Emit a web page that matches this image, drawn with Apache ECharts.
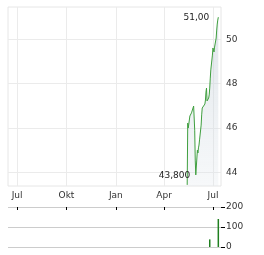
<!DOCTYPE html>
<html>
<head>
<meta charset="utf-8">
<script src="https://cdn.jsdelivr.net/npm/echarts@6/dist/echarts.min.js"></script>
<style>
  html, body { margin: 0; padding: 0; background: #fff; }
  #chart { width: 264px; height: 255px; }
</style>
</head>
<body>
<div id="chart"></div>
<script>
// Kursdaten (Schlusskurse)
var dates = [
  '2025-05-14', '2025-05-15', '2025-05-16', '2025-05-19', '2025-05-20', '2025-05-21', '2025-05-22', '2025-05-23',
  '2025-05-26', '2025-05-27', '2025-05-28', '2025-05-29', '2025-05-30',
  '2025-06-02', '2025-06-03', '2025-06-04', '2025-06-05', '2025-06-06',
  '2025-06-09', '2025-06-10', '2025-06-11', '2025-06-12', '2025-06-13',
  '2025-06-16', '2025-06-17', '2025-06-18', '2025-06-19', '2025-06-20',
  '2025-06-23', '2025-06-24', '2025-06-25', '2025-06-26', '2025-06-27',
  '2025-06-30', '2025-07-01', '2025-07-02', '2025-07-03', '2025-07-04',
  '2025-07-07', '2025-07-08', '2025-07-09', '2025-07-10', '2025-07-11'
];
var prices = [
  43.43, 46.22, 46.0, 46.54, 46.59, 46.59, 46.68, 46.72,
  46.99, 46.95, 45.9, 44.55, 43.88,
  45.0, 44.87, 45.1, 45.23, 45.46,
  46.13, 46.59, 46.9, 46.99, 46.81,
  47.08, 47.26, 47.62, 47.8, 47.22,
  47.35, 47.49, 47.8, 48.25, 48.62,
  49.29, 49.61, 49.52, 49.43, 49.65,
  50.06, 50.42, 50.69, 50.87, 51.0
];

// Umsatz
var volDates = ['2025-06-25', '2025-07-11'];
var volumes = [38, 140];

// Achsen
var monthTicks = ['2024-07-01', '2024-10-01', '2025-01-01', '2025-04-01', '2025-07-01'];
var monthNames = { 0: 'Jan', 3: 'Apr', 6: 'Jul', 9: 'Okt' };
var priceTicks = [44, 46, 48, 50];
var volTicks = [0, 100, 200];

// Hoch / Tief Beschriftung
var hiLabel = ['2025-07-11', 51.0, '51,00'];
var loLabel = ['2025-05-14', 43.43, '43,800'];

function ts(s) { return new Date(s + 'T00:00:00Z').getTime(); }

var tickValues = monthTicks.map(ts);
var xMin = ts('2024-06-14');
var xMax = ts('2025-07-16');
var font = 'DejaVu Sans';

var chart = echarts.init(document.getElementById('chart'));

var option = {
  animation: false,
  grid: [
    { left: 8, right: 43, top: 7, height: 179, show: true, borderColor: '#e6e6e6', borderWidth: 1 },
    { left: 8, right: 43, top: 207, height: 40 }
  ],
  xAxis: [
    {
      type: 'value', gridIndex: 0, min: xMin, max: xMax,
      axisLine: { show: false, onZero: false },
      axisTick: { show: false, customValues: tickValues },
      axisLabel: {
        customValues: tickValues, margin: 5, color: '#333', fontSize: 9, fontFamily: font,
        formatter: function (v) { return monthNames[new Date(v).getUTCMonth()]; }
      },
      splitLine: { show: true, lineStyle: { color: '#ebebeb', width: 1 } }
    },
    {
      type: 'value', gridIndex: 1, min: xMin, max: xMax, position: 'top',
      axisLine: { show: false, onZero: false },
      axisTick: { show: true, inside: true, length: 3, customValues: tickValues, lineStyle: { color: '#000' } },
      axisLabel: { show: false, customValues: tickValues },
      splitLine: { show: false }
    }
  ],
  yAxis: [
    {
      type: 'value', gridIndex: 0, position: 'right', min: 43.38, max: 51.46,
      axisLine: { show: false },
      axisTick: { show: false, customValues: priceTicks },
      axisLabel: { customValues: priceTicks, margin: 5, color: '#333', fontSize: 9, fontFamily: font },
      splitLine: { show: true, lineStyle: { color: '#ebebeb', width: 1 } }
    },
    {
      type: 'value', gridIndex: 1, position: 'right', min: 0, max: 200,
      axisLine: { show: false },
      axisTick: { show: true, length: 4, customValues: volTicks, lineStyle: { color: '#000' } },
      axisLabel: { customValues: volTicks, margin: 5, color: '#333', fontSize: 9, fontFamily: font },
      splitLine: { show: true, lineStyle: { color: '#cccccc', width: 1 } }
    }
  ],
  series: [
    {
      type: 'line', xAxisIndex: 0, yAxisIndex: 0,
      data: dates.map(function (d, i) { return [ts(d), prices[i]]; }),
      showSymbol: false, symbol: 'none',
      lineStyle: { color: '#3f9f3f', width: 1 },
      areaStyle: {
        color: new echarts.graphic.LinearGradient(0, 0, 0, 1, [
          { offset: 0, color: 'rgba(196,207,216,0.8)' },
          { offset: 1, color: 'rgba(220,227,233,0.35)' }
        ])
      },
      markPoint: {
        symbol: 'circle', symbolSize: 0,
        data: [
          { coord: [ts(hiLabel[0]), hiLabel[1]], value: hiLabel[2],
            label: { position: 'left', distance: 5, offset: [-4, 0] } },
          { coord: [ts(loLabel[0]), loLabel[1]], value: loLabel[2],
            label: { position: 'left', distance: 5, offset: [8, -9] } }
        ],
        label: {
          show: true, color: '#222', fontSize: 9, fontFamily: font,
          formatter: function (p) { return p.value; }
        }
      }
    },
    {
      type: 'bar', xAxisIndex: 1, yAxisIndex: 1,
      data: volDates.map(function (d, i) { return [ts(d), volumes[i]]; }),
      barWidth: 1.5,
      itemStyle: { color: '#1f7f1f' }
    }
  ]
};

chart.setOption(option);
</script>
</body>
</html>
